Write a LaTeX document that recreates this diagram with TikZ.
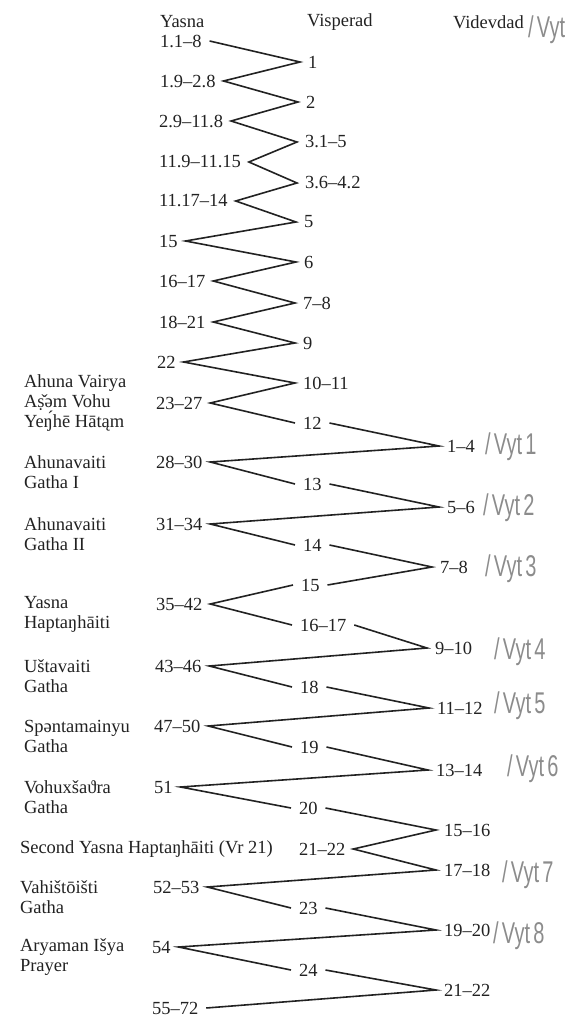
\documentclass[tikz,border=0pt]{standalone}
\usepackage{fontspec}
\usepackage{graphicx}
\setmainfont{Liberation Serif}
\newfontfamily\handfont{Liberation Sans}
\usetikzlibrary{positioning}
\definecolor{ink}{HTML}{222222}
\definecolor{pencil}{HTML}{8C8C8C}
\newcommand\vytnote[1]{\scalebox{0.8}[1.2]{/\,Vyt\,#1}}

\begin{document}
\begin{tikzpicture}[x=1pt,y=-1pt,
  every node/.style={font=\fontsize{18.5}{20}\selectfont,text=ink,
    inner xsep=3pt,inner ysep=1pt,outer xsep=5pt,anchor=west},
  lbl/.style={align=left},
  hand/.style={font=\handfont\fontsize{25}{25}\selectfont,text=pencil},
  zig/.style={ink,line width=1.6pt,line join=miter}]
  \useasboundingbox (0,0) rectangle (585,1019);
  % column heads
  \node (hyasna) at (152,22) {Yasna};
  \node (hvisp) at (299,22) {Visperad};
  \node (hvid) at (445,22) {Videvdad};
  % Yasna
  \foreach \n/\t/\x/\y in {ya1/1.1–8/152/41, ya2/1.9–2.8/152/81, ya3/2.9–11.8/151/121,
      ya4/11.9–11.15/151/162, ya5/11.17–14/151/201, ya6/15/151/241, ya7/16–17/151/281,
      ya8/18–21/151/322, ya9/22/149/362, ya10/23–27/148/403, ya11/28–30/148/462,
      ya12/31–34/148/524, ya13/35–42/148/604, ya14/43–46/147/666, ya15/47–50/146/726,
      ya16/51/146/787, ya17/52–53/145/887, ya18/54/144/947, ya19/55–72/144/1008}
    \node (\n) at (\x,\y) {\t};
  % Visperad
  \foreach \n/\t/\x/\y in {vr1/1/300/62, vr2/2/298/102, vr3/3.1–5/297/142, vr4/3.6–4.2/297/183,
      vr5/5/296/222, vr6/6/296/262, vr7/7–8/295/303, vr8/9/295/343, vr9/10–11/295/383,
      vr10/12/295/423, vr11/13/295/484, vr12/14/295/545, vr13/15/293/585, vr14/16–17/292/625,
      vr15/18/292/687, vr16/19/292/747, vr17/20/291/808, vr18/21–22/291/849, vr19/23/291/908,
      vr20/24/291/970}
    \node (\n) at (\x,\y) {\t};
  % Videvdad
  \foreach \n/\t/\x/\y in {vd1/1–4/439/446, vd2/5–6/439/507, vd3/7–8/432/567, vd4/9–10/427/648,
      vd5/11–12/429/708, vd6/13–14/428/770, vd7/15–16/436/830, vd8/17–18/436/870,
      vd9/19–20/436/930, vd10/21–22/436/990}
    \node (\n) at (\x,\y) {\t};
  % names of the Yasna parts
  \node[lbl] (ahuna) at (16,403) {Ahuna Vairya\\Aṣ̌əm Vohu\\Yeŋ́hē Hātąm};
  \node[lbl] (gatha1) at (16,472) {Ahunavaiti\\Gatha I};
  \node[lbl] (gatha2) at (16,534) {Ahunavaiti\\Gatha II};
  \node[lbl] (hapt) at (16,614) {Yasna\\Haptaŋhāiti};
  \node[lbl] (ustav) at (16,676) {Uštavaiti\\Gatha};
  \node[lbl] (spenta) at (16,736) {Spəntamainyu\\Gatha};
  \node[lbl] (vohu) at (16,797) {Vohuxšaϑra\\Gatha};
  \node (hapt2) at (12,849) {Second Yasna Haptaŋhāiti (Vr 21)};
  \node[lbl] (vahi) at (12,897) {Vahištōišti\\Gatha};
  \node[lbl] (arya) at (12,957) {Aryaman Išya\\Prayer};
  % pencil notes
  \node[hand] (vyt0) at (520,30) {\vytnote{}};
  \foreach \n/\t/\x/\y in {vyt1/1/477/447, vyt2/2/475/508, vyt3/3/477/569, vyt4/4/486/652,
      vyt5/5/486/706, vyt6/6/499/769, vyt7/7/494/875, vyt8/8/485/936}
    \node[hand] (\n) at (\x,\y) {\vytnote{\t}};
  % order of recitation
  \draw[zig] (ya1.east) \foreach \i/\j in {1/2,2/3,3/4,4/5,5/6,6/7,7/8,8/9,9/10}
    { -- (vr\i.west) -- (ya\j.east) } -- (vr10.west);
  \draw[zig] (vr10.east) -- (vd1.west) -- (ya11.east) -- (vr11.west);
  \draw[zig] (vr11.east) -- (vd2.west) -- (ya12.east) -- (vr12.west);
  \draw[zig] (vr12.east) -- (vd3.west) -- (vr13.east);
  \draw[zig] (vr13.west) -- (ya13.east) -- (vr14.west);
  \draw[zig] (vr14.east) -- (vd4.west) -- (ya14.east) -- (vr15.west);
  \draw[zig] (vr15.east) -- (vd5.west) -- (ya15.east) -- (vr16.west);
  \draw[zig] (vr16.east) -- (vd6.west) -- (ya16.east) -- (vr17.west);
  \draw[zig] (vr17.east) -- (vd7.west) -- (vr18.east) -- (vd8.west) -- (ya17.east) -- (vr19.west);
  \draw[zig] (vr19.east) -- (vd9.west) -- (ya18.east) -- (vr20.west);
  \draw[zig] (vr20.east) -- (vd10.west) -- (ya19.east);
\end{tikzpicture}
\end{document}
